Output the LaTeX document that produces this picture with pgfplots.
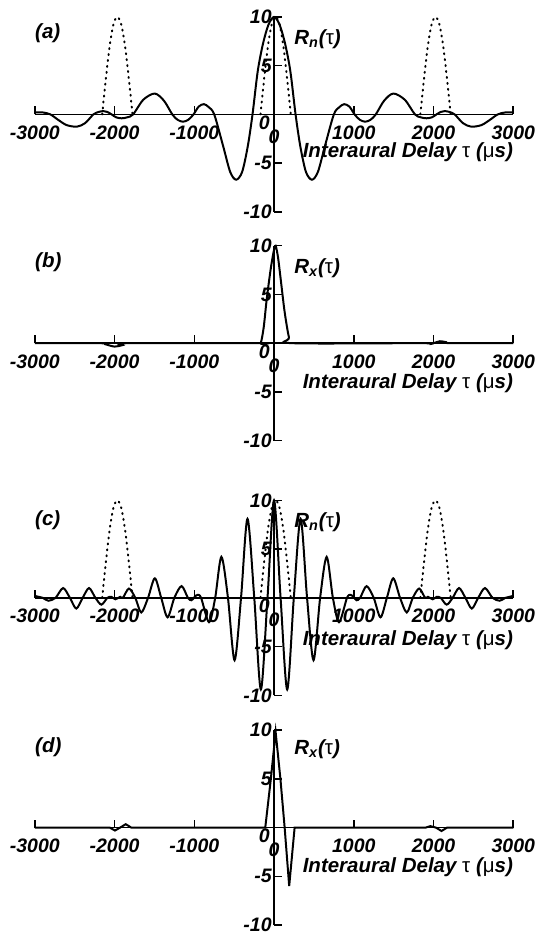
\documentclass[border=0pt]{standalone}
\usepackage{fontspec}
\setmainfont{Liberation Sans}
\usepackage{pgfplots}
\pgfplotsset{compat=1.18}

\newcommand{\lbl}{\fontsize{9.8}{10}\selectfont\bfseries\itshape}
\newcommand{\txt}{\fontsize{10.3}{11}\selectfont\bfseries\itshape}
\newcommand{\gk}[1]{{\upshape\mdseries #1}}

\pgfplotsset{
  panel/.style={
    scale only axis, width=240.5pt, height=98pt,
    xmin=-3000, xmax=3000, ymin=-10, ymax=10,
    axis lines=middle, axis line style={-, line width=0.9pt},
    xtick={-3000,-2000,-1000,0,1000,2000,3000},
    ytick={-10,-5,0,5,10},
    xtick align=inside, ytick align=inside,
    tick style={black, line width=0.8pt},
    major tick length=4pt,
    /pgf/number format/assume math mode=true,
    /pgf/number format/1000 sep={},
    ticklabel style={font=\lbl, inner sep=1pt},
    xticklabel style={yshift=-4.5pt},
    clip=false,
  },
  curve/.style={black, line width=1pt, no marks},
  dots/.style={black, line width=1pt, dash pattern=on 0.5pt off 2.5pt,
    line cap=round, smooth, no marks},
}
% the tick labels at the origin, which pgfplots leaves out for middle axes
\newcommand{\zerolabels}{%
  \node[anchor=north, font=\lbl, inner sep=1pt, yshift=-6.5pt] at (axis cs:0,0) {0};
  \node[anchor=north east, font=\lbl, inner sep=1pt, xshift=-1pt, yshift=0.5pt] at (axis cs:0,0) {0};
}

\begin{document}
\begin{tikzpicture}
\useasboundingbox (0,0) rectangle (270pt,-472pt);

% (a)
\begin{axis}[panel, at={(17.5pt,-8.5pt)}, anchor=north west]
\addplot[curve, smooth] coordinates {
(-3000,0.2) (-2900,0.2) (-2805,0) (-2700,-0.6) (-2600,-1.1) (-2473,-1.26)
(-2370,-0.9) (-2265,0) (-2200,0.25) (-2140,0.34) (-2090,0.25) (-2037,0)
(-1980,-0.3) (-1912,-0.4) (-1840,-0.3) (-1767,0) (-1640,1.5) (-1496,2.14)
(-1380,1.4) (-1276,0) (-1210,-0.55) (-1143,-0.75) (-1075,-0.55) (-1010,0)
(-945,0.8) (-880,1.05) (-820,0.75) (-750,0) (-640,-3.2) (-550,-5.9)
(-475,-6.7) (-400,-5.9) (-330,-3.3) (-270,0) (-205,4.4) (-140,7.2)
(-70,9.2) (0,10)
(70,9.2) (140,7.2) (205,4.4) (270,0) (330,-3.3) (400,-5.9) (475,-6.7)
(550,-5.9) (640,-3.2) (750,0) (820,0.75) (880,1.05) (945,0.8) (1010,0)
(1075,-0.55) (1143,-0.75) (1210,-0.55) (1276,0) (1380,1.4) (1496,2.14)
(1640,1.5) (1767,0) (1840,-0.3) (1912,-0.4) (1980,-0.3) (2037,0)
(2090,0.25) (2140,0.34) (2200,0.25) (2265,0) (2370,-0.9) (2473,-1.26)
(2600,-1.1) (2700,-0.6) (2805,0) (2900,0.2) (3000,0.2)};
\addplot[dots] coordinates {(-2155,0) (-2115,3.2) (-2065,6.8) (-2015,9.2) (-1965,10) (-1915,9.2) (-1865,6.8) (-1815,3.2) (-1775,0)};
\addplot[dots] coordinates {(-170,0) (-130,3.2) (-80,6.8) (-30,9.2) (20,10) (70,9.2) (120,6.8) (170,3.2) (210,0)};
\addplot[dots] coordinates {(1835,0) (1875,3.2) (1925,6.8) (1975,9.2) (2025,10) (2075,9.2) (2125,6.8) (2175,3.2) (2215,0)};
\zerolabels
\node[anchor=west, font=\txt, inner sep=0pt] at (axis cs:-3000,8.3) {(a)};
\node[anchor=west, font=\txt, inner sep=0pt] at (axis cs:250,7.7) {R\textsubscript{n}(\gk{τ})};
\node[anchor=east, font=\txt, inner sep=0pt] at (axis cs:3000,-3.9) {Interaural Delay \gk{τ} (\gk{μ}s)};
\end{axis}

% (b)
\begin{axis}[panel, at={(17.5pt,-123.5pt)}, anchor=north west]
\addplot[curve, smooth] coordinates {
(-3000,0) (-2200,0) (-2120,-0.1) (-2000,-0.35) (-1900,-0.2) (-1820,0)
(-200,0) (-167,0) (-130,1.6) (-92,4.5) (-42,7.6) (0,9.6) (20,10) (50,8.8)
(83,6.6) (133,3.2) (187,0.6) (229,0) (1850,0) (1950,-0.1) (2000,0)
(2080,0.2) (2160,0.1) (2220,0) (3000,0)};
\zerolabels
\node[anchor=west, font=\txt, inner sep=0pt] at (axis cs:-3000,8.3) {(b)};
\node[anchor=west, font=\txt, inner sep=0pt] at (axis cs:250,7.7) {R\textsubscript{x}(\gk{τ})};
\node[anchor=east, font=\txt, inner sep=0pt] at (axis cs:3000,-4.1) {Interaural Delay \gk{τ} (\gk{μ}s)};
\end{axis}

% (c)
\begin{axis}[panel, at={(17.5pt,-251.5pt)}, anchor=north west]
\addplot[curve, smooth] coordinates {
(-3000,0.2) (-2950,0.1) (-2900,0) (-2830,-0.3) (-2740,0) (-2645,1.0)
(-2560,0) (-2480,-1.1) (-2400,0) (-2320,1.0) (-2240,0) (-2165,-0.7)
(-2090,0) (-2040,0.1) (-1990,-0.15) (-1930,0.1) (-1895,0) (-1820,0.95)
(-1740,0) (-1665,-1.5) (-1580,0) (-1495,2.0) (-1415,0) (-1335,-2.0)
(-1250,0) (-1160,1.2) (-1080,0) (-1035,-0.25) (-995,0.1) (-960,0.3)
(-915,0) (-815,-2.5) (-738,0) (-660,4.2) (-578,0) (-495,-6.4) (-414,0)
(-333,8.1) (-248,0) (-165,-9.4) (-82,0) (0,10)
(82,0) (165,-9.4) (248,0) (333,8.1) (414,0) (495,-6.4) (578,0) (660,4.2)
(738,0) (815,-2.5) (915,0) (960,0.3) (995,0.1) (1035,-0.25) (1080,0)
(1160,1.2) (1250,0) (1335,-2.0) (1415,0) (1495,2.0) (1580,0) (1665,-1.5)
(1740,0) (1820,0.95) (1895,0) (1930,0.1) (1990,-0.15) (2040,0.1) (2090,0)
(2165,-0.7) (2240,0) (2320,1.0) (2400,0) (2480,-1.1) (2560,0) (2645,1.0)
(2740,0) (2830,-0.3) (2900,0) (2950,0.1) (3000,0.2)};
\addplot[dots] coordinates {(-2155,0) (-2115,3.2) (-2065,6.8) (-2015,9.2) (-1965,10) (-1915,9.2) (-1865,6.8) (-1815,3.2) (-1775,0)};
\addplot[dots] coordinates {(-170,0) (-130,3.2) (-80,6.8) (-30,9.2) (20,10) (70,9.2) (120,6.8) (170,3.2) (210,0)};
\addplot[dots] coordinates {(1835,0) (1875,3.2) (1925,6.8) (1975,9.2) (2025,10) (2075,9.2) (2125,6.8) (2175,3.2) (2215,0)};
\zerolabels
\node[anchor=west, font=\txt, inner sep=0pt] at (axis cs:-3000,8.0) {(c)};
\node[anchor=west, font=\txt, inner sep=0pt] at (axis cs:250,7.8) {R\textsubscript{n}(\gk{τ})};
\node[anchor=east, font=\txt, inner sep=0pt] at (axis cs:3000,-4.3) {Interaural Delay \gk{τ} (\gk{μ}s)};
\end{axis}

% (d)
\begin{axis}[panel, at={(17.5pt,-367pt)}, anchor=north west]
\addplot[curve] coordinates {
(-3000,0) (-2060,0) (-1995,-0.3) (-1930,0) (-1860,0.35) (-1790,0)
(-110,0) (-40,5) (20,9.8) (80,5) (133,0) (190,-6.0) (258,0)
(1900,0) (1960,0.15) (2030,0) (2100,-0.35) (2170,0) (3000,0)};
\zerolabels
\node[anchor=west, font=\txt, inner sep=0pt] at (axis cs:-3000,8.2) {(d)};
\node[anchor=west, font=\txt, inner sep=0pt] at (axis cs:250,8.0) {R\textsubscript{x}(\gk{τ})};
\node[anchor=east, font=\txt, inner sep=0pt] at (axis cs:3000,-4.1) {Interaural Delay \gk{τ} (\gk{μ}s)};
\end{axis}
\end{tikzpicture}
\end{document}
